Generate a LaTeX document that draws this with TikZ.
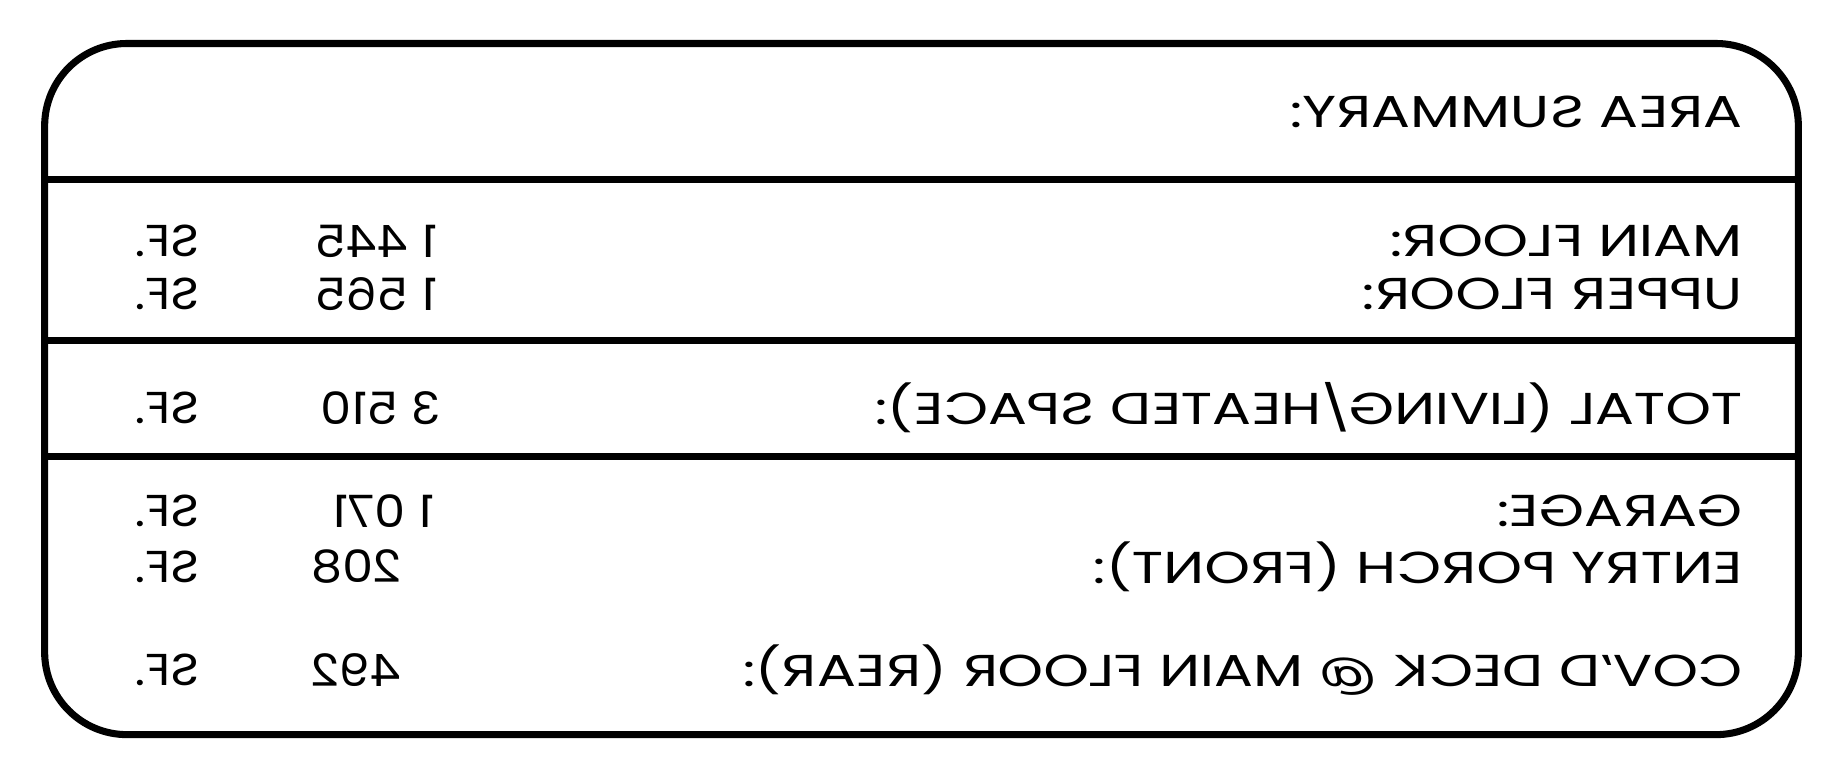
\documentclass[tikz,border=0pt]{standalone}
\usepackage{fontspec}
\setmainfont{Poppins}
\usepackage{graphicx}
\newcommand{\mw}[1]{\scalebox{-1.3}[1]{#1}}
\newcommand{\mn}[1]{\scalebox{-1.1}[1]{#1}}
\begin{document}
\begin{tikzpicture}[x=1pt,y=-1pt,
  lbl/.style={anchor=east,inner sep=0pt,font=\fontsize{38}{40}\selectfont},
  num/.style={anchor=west,inner sep=0pt,font=\fontsize{38}{40}\selectfont},
  rule/.style={line width=6pt}]
\useasboundingbox (0,0) rectangle (1568,666);
\draw[rule,rounded corners=70pt] (38,37) rectangle (1530,625);
\foreach \y in {153,290,388} \draw[rule] (38,\y) -- (1530,\y);
\node[lbl] (t) at (1483,95) {\mw{AREA SUMMARY:}};
\node[lbl] (a) at (1483,205) {\mw{MAIN FLOOR:}};
\node[lbl] (b) at (1483,250) {\mw{UPPER FLOOR:}};
\node[lbl] (c) at (1483,347) {\mw{TOTAL (LIVING/HEATED SPACE):}};
\node[lbl] (d) at (1483,435) {\mw{GARAGE:}};
\node[lbl] (e) at (1483,482) {\mw{ENTRY PORCH (FRONT):}};
\node[lbl] (f) at (1483,570) {\mw{COV'D DECK @ MAIN FLOOR (REAR):}};
\node[lbl] (na) at (372,205) {\mn{1 445}};
\node[lbl] (nb) at (372,250) {\mn{1 565}};
\node[lbl] (nc) at (375,347) {\mn{3 510}};
\node[lbl] (nd) at (370,435) {\mn{1 071}};
\node[num] (ne) at (265,482) {\mn{208}};
\node[num] (nf) at (265,570) {\mn{492}};
\foreach \y/\n in {205/sa,250/sb,347/sc,435/sd,482/se,570/sf}
  \node[num] (\n) at (115,\y) {\mn{SF.}};
\end{tikzpicture}
\end{document}
